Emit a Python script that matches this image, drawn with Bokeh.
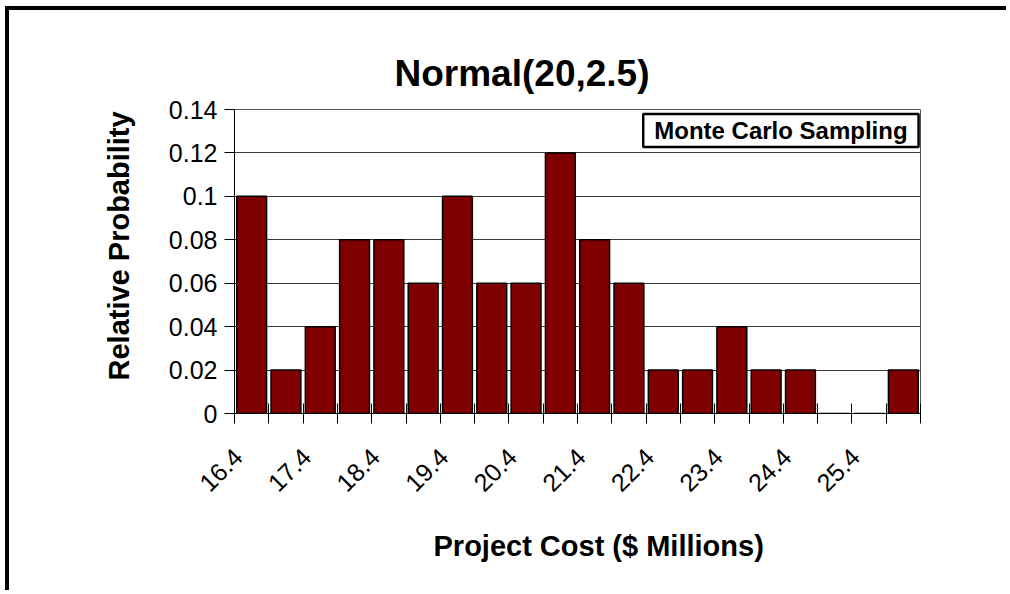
from bokeh.plotting import figure
from bokeh.models import FixedTicker, Label, Title
from bokeh.embed import file_html
from bokeh.resources import INLINE

# ---- data ----
bin_labels = ["16.4", "16.9", "17.4", "17.9", "18.4", "18.9", "19.4", "19.9", "20.4", "20.9",
              "21.4", "21.9", "22.4", "22.9", "23.4", "23.9", "24.4", "24.9", "25.4", "25.9"]
rel_prob = [0.10, 0.02, 0.04, 0.08, 0.08, 0.06, 0.10, 0.06, 0.06, 0.12,
            0.08, 0.06, 0.02, 0.02, 0.04, 0.02, 0.02, 0.00, 0.00, 0.02]
y_ticks = [0.0, 0.02, 0.04, 0.06, 0.08, 0.10, 0.12, 0.14]
y_tick_labels = ["0", "0.02", "0.04", "0.06", "0.08", "0.1", "0.12", "0.14"]
title_text = "Normal(20,2.5)"
x_title = "Project Cost ($ Millions)"
y_title = "Relative Probability"
legend_text = "Monte Carlo Sampling"

FONT = "Liberation Sans"
n = len(bin_labels)
xc = [i + 0.5 for i in range(n)]
LABEL_SHIFT = 0.4  # rotated labels end slightly left of the bar centre

p = figure(width=1001, height=584, x_range=(0, n), y_range=(y_ticks[0], y_ticks[-1]),
           output_backend="svg", toolbar_location=None,
           min_border_left=225, min_border_right=90, min_border_top=99, min_border_bottom=181)
p.styles = {"border-left": "4px solid black", "border-top": "4px solid black",
            "margin-left": "5px", "margin-top": "6px"}

p.vbar(x=xc, top=rel_prob, bottom=0, width=0.87, fill_color="#800000",
       line_color="black", line_width=1.5)

# x axis: boundary ticks as minor ticks, labels at every other bin
label_pos = [xc[i] - LABEL_SHIFT for i in range(0, n, 2)]
xax = p.xaxis[0]
xax.ticker = FixedTicker(ticks=label_pos, minor_ticks=list(range(n + 1)))
xax.major_label_overrides = {label_pos[k]: bin_labels[2 * k] for k in range(len(label_pos))}
xax.major_tick_in = 0
xax.major_tick_out = 0
xax.minor_tick_in = 10
xax.minor_tick_out = 10
xax.minor_tick_line_color = "black"
xax.axis_line_color = "black"
xax.major_label_orientation = 0.785398
xax.major_label_standoff = 29
xax.major_label_text_font = FONT
xax.major_label_text_font_size = "25px"
xax.major_label_text_color = "black"

yax = p.yaxis[0]
yax.ticker = FixedTicker(ticks=y_ticks, minor_ticks=[])
yax.major_label_overrides = {y_ticks[i]: y_tick_labels[i] for i in range(len(y_ticks))}
yax.major_tick_in = 0
yax.major_tick_out = 10
yax.major_tick_line_color = "black"
yax.axis_line_color = "black"
yax.major_label_standoff = 7
yax.major_label_text_font = FONT
yax.major_label_text_font_size = "25px"
yax.major_label_text_color = "black"

p.xgrid.visible = False
p.ygrid.ticker = FixedTicker(ticks=y_ticks)
p.ygrid.grid_line_color = "#3a3a3a"
p.ygrid.grid_line_width = 1
p.outline_line_color = "#555555"
p.outline_line_width = 1
p.background_fill_color = "white"
p.border_fill_color = "white"

p.title.text = title_text
p.title.align = "left"
p.title.offset = 160
p.title.standoff = 32
p.title.text_font = FONT
p.title.text_font_size = "37px"
p.title.text_font_style = "bold"
p.title.text_color = "black"

p.add_layout(Title(text=x_title, align="left", offset=199, standoff=51,
                   text_font=FONT, text_font_size="29px", text_font_style="bold",
                   text_color="black"), "below")
p.add_layout(Title(text=y_title, align="left", offset=33, standoff=62,
                   text_font=FONT, text_font_size="29px", text_font_style="bold",
                   text_color="black"), "left")

p.add_layout(Label(x=15.93, y=0.1303, text=legend_text, text_align="center",
                   text_baseline="middle", text_font=FONT, text_font_size="24px",
                   text_font_style="bold", text_color="black",
                   border_line_color="black", border_line_width=2.5,
                   background_fill_color="white", padding=(11, 3)))

open("out.html", "w").write(file_html(p, INLINE))
